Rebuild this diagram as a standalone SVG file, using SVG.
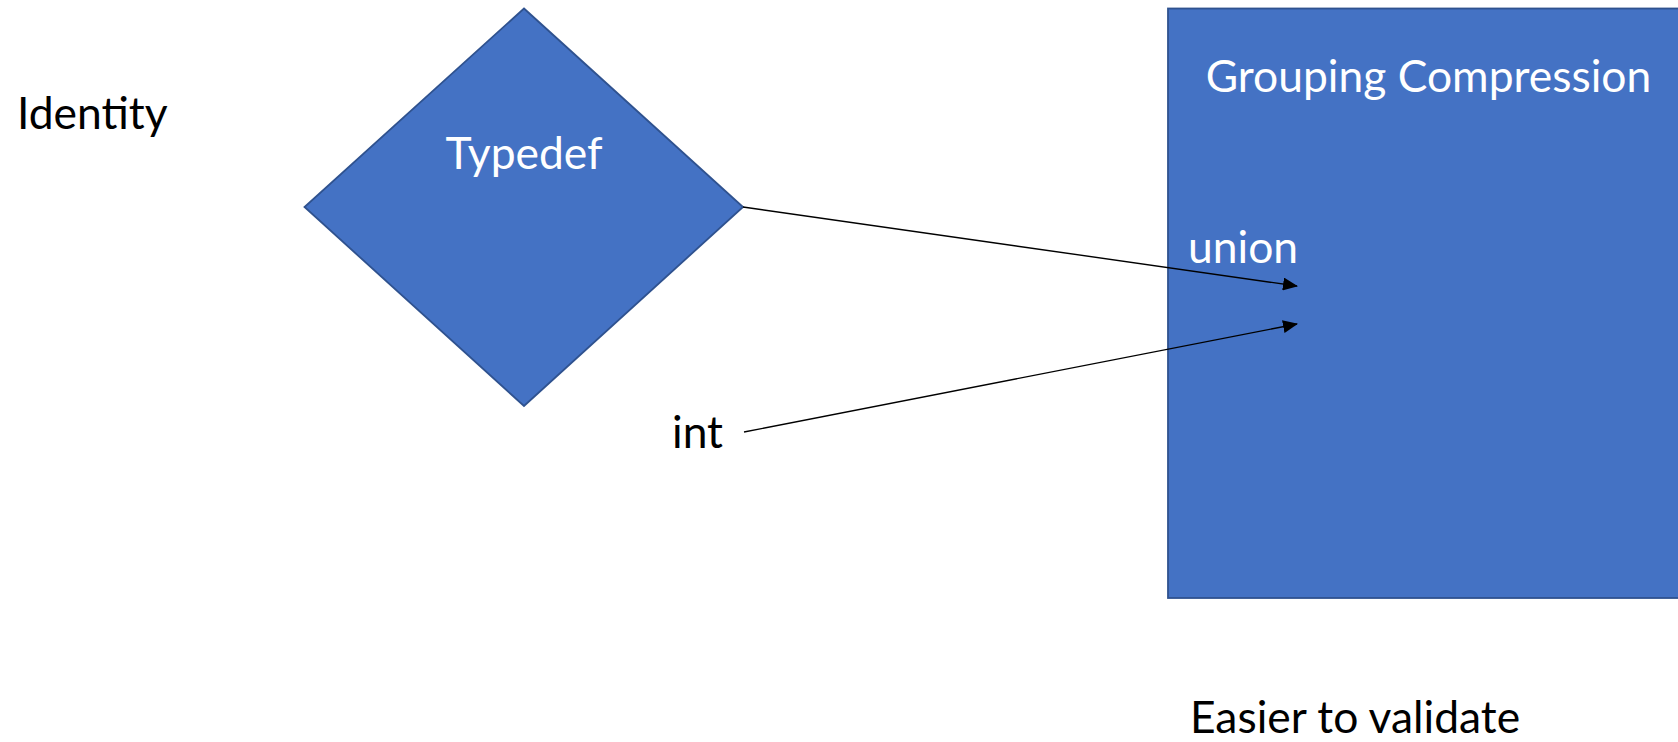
<svg xmlns="http://www.w3.org/2000/svg" width="1678" height="742" viewBox="0 0 1678 742">
<style>
.shape{fill:#4472C4;stroke:#2F528F;stroke-width:1.8}
.lbl{font-family:Lato,"Liberation Sans",sans-serif;font-size:44.4px}
.w{fill:#FFFFFF}
.k{fill:#000000}
.conn{stroke:#000000;stroke-width:1.4;fill:none}
</style>
<defs>
<marker id="arr" markerWidth="15" markerHeight="13" refX="14" refY="6.5" orient="auto" markerUnits="userSpaceOnUse">
<path d="M0,0 L15,6.5 L0,13 Z" fill="#000000"/>
</marker>
</defs>
<rect width="1678" height="742" fill="#FFFFFF"/>
<g id="identity"><text class="lbl k" x="17" y="129">Identity</text></g>
<g id="typedef">
<polygon class="shape" points="524,8.5 743,207 524,406 304.5,207"/>
<text class="lbl w" x="524" y="169" text-anchor="middle">Typedef</text>
</g>
<g id="grouping">
<rect class="shape" x="1168" y="8.5" width="520" height="589.5"/>
<text class="lbl w" x="1428.5" y="92" text-anchor="middle">Grouping Compression</text>
<text class="lbl w" x="1188" y="263">union</text>
</g>
<g id="int"><text class="lbl k" x="672" y="448">int</text></g>
<g id="easier"><text class="lbl k" x="1190" y="733">Easier to validate</text></g>
<g id="connectors">
<line class="conn" x1="743" y1="207" x2="1297" y2="286" marker-end="url(#arr)"/>
<line class="conn" x1="744" y1="432" x2="1297" y2="324" marker-end="url(#arr)"/>
</g>
</svg>
